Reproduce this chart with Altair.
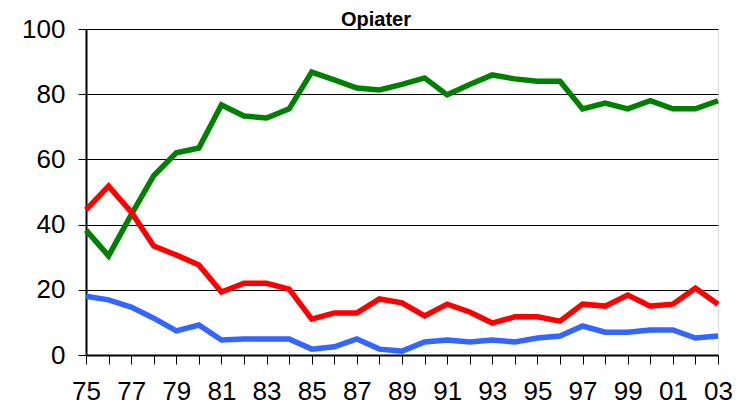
import altair as alt
import pandas as pd

years = list(range(1975, 2004))
green = [38.3, 30.4, 43.0, 55.0, 62.0, 63.5, 76.7, 73.3, 72.7, 75.5,
         86.8, 84.4, 81.9, 81.3, 83.0, 85.0, 79.8, 83.0, 85.9, 84.7,
         84.0, 84.0, 75.5, 77.3, 75.5, 78.0, 75.5, 75.5, 78.0]
red = [44.5, 51.8, 43.9, 33.4, 30.7, 27.6, 19.3, 22.0, 22.0, 20.2,
       11.0, 12.9, 12.9, 17.2, 16.0, 12.0, 15.6, 13.2, 9.8, 11.7,
       11.7, 10.4, 15.6, 15.0, 18.4, 15.0, 15.6, 20.5, 15.6]
blue = [18.0, 16.9, 14.7, 11.3, 7.4, 9.2, 4.6, 4.9, 4.9, 4.9,
        1.8, 2.5, 4.9, 1.8, 1.2, 4.0, 4.6, 4.0, 4.6, 4.0,
        5.2, 5.8, 8.9, 7.0, 7.0, 7.7, 7.7, 5.2, 5.8]
series_names = ["Grøn", "Rød", "Blå"]
series_colors = ["#008000", "#FF0000", "#3366FF"]
y_ticks = [0, 20, 40, 60, 80, 100]
title_text = ["Opiater"]

rows = []
for name, vals in zip(series_names, [green, red, blue]):
    for yr, v in zip(years, vals):
        rows.append({"year": yr, "value": v, "serie": name})
df = pd.DataFrame(rows)

font = "Liberation Sans"

lines = alt.Chart(df).mark_line(strokeWidth=5.5, strokeJoin="miter").encode(
    x=alt.X("year:Q",
            scale=alt.Scale(domain=[1975, 2003], nice=False, zero=False),
            axis=alt.Axis(values=years, title=None, grid=False,
                          labelExpr="datum.value % 2 == 1 ? substring(toString(datum.value), 2, 4) : ''",
                          labelFont=font, labelFontSize=26, labelColor="black",
                          tickSize=9, tickColor="black", tickWidth=1,
                          labelPadding=14, domainColor="black", domainWidth=2,
                          labelFlush=False, labelOverlap=False)),
    y=alt.Y("value:Q",
            scale=alt.Scale(domain=[0, 100], nice=False),
            axis=alt.Axis(values=y_ticks, title=None, grid=True,
                          gridColor="black", gridWidth=1, gridOpacity=1,
                          labelFont=font, labelFontSize=26, labelColor="black",
                          tickSize=8, tickColor="black", tickWidth=1,
                          labelPadding=13, domainColor="black", domainWidth=2)),
    color=alt.Color("serie:N",
                    scale=alt.Scale(domain=series_names, range=series_colors),
                    legend=None),
    order=alt.Order("year:Q"),
)

title = alt.Chart(pd.DataFrame({"t": title_text})).mark_text(
    font=font, fontSize=20, fontWeight="bold", color="black",
    align="center", baseline="alphabetic"
).encode(text="t:N", x=alt.value(290), y=alt.value(-3))

chart = alt.layer(lines, title).properties(
    width=632,
    height=326,
    autosize=alt.AutoSizeParams(type="none"),
    padding={"left": 78, "top": 21, "right": 16, "bottom": 54},
).configure_view(stroke="black", strokeWidth=2).configure(background="white")

chart.save("out.html", embed_options={"renderer": "svg", "actions": False})
